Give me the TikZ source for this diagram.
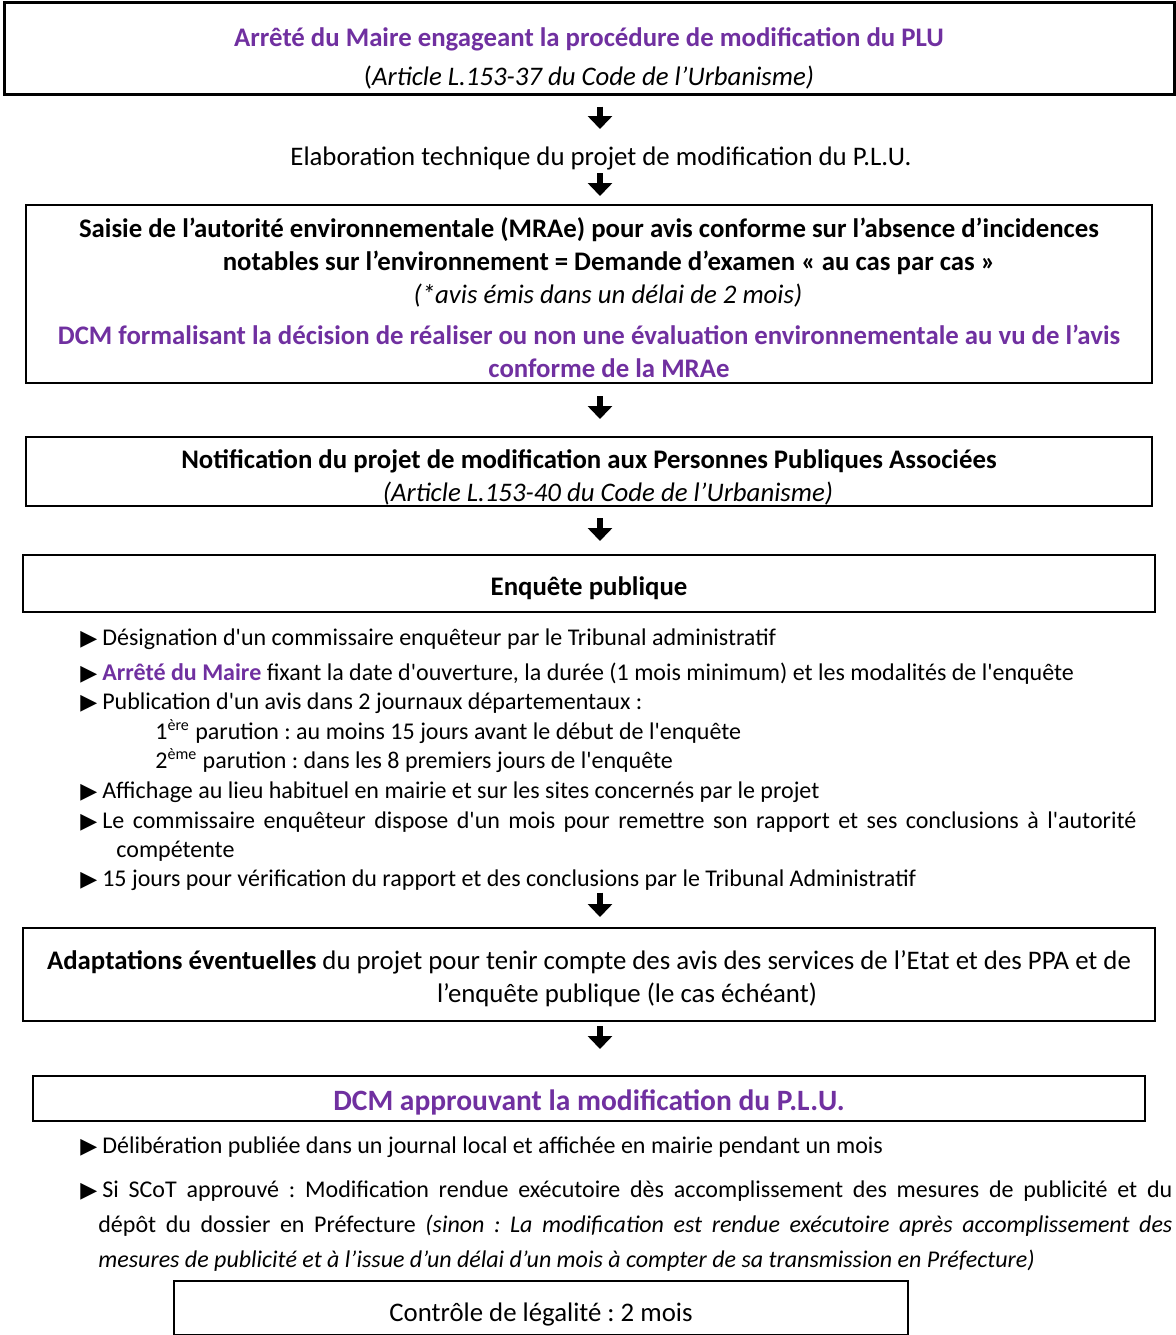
\documentclass[tikz,border=0pt]{standalone}
\usepackage{fontspec}
\setmainfont{Carlito}[Ligatures=TeXOff]
\newfontfamily\symfont{DejaVu Sans}
\usetikzlibrary{arrows.meta}
\frenchspacing
\newcommand{\tri}{{\symfont\fontsize{11}{11}\selectfont ▶}\hspace{2.5pt}}
\newcommand{\grand}{\fontsize{13.4}{16.5}\selectfont}
\begin{document}
\begin{tikzpicture}[x=0.5pt, y=-0.5pt, font=\fontsize{12}{14.75}\selectfont,
    boite/.style={draw, line width=1pt, align=center, inner sep=0pt, font=\grand},
    fleche/.style={line width=2.6pt, -{Triangle[width=12pt, length=6.5pt]}},
    puce/.style={anchor=base west, inner sep=0pt},
    para/.style={anchor=base west, inner sep=0pt, align=justify}]
  % Couleurs
  \definecolor{violetDCM}{RGB}{112, 48, 160}

  \useasboundingbox (0,0) rectangle (1176,1335);
  \coordinate (axe) at (600,0);

  % Etapes
  \node[boite, line width=1.5pt, minimum width=585pt, minimum height=46pt] (arrete) at (589,48)
    {\rule{0pt}{20pt}{\bfseries\color{violetDCM}Arrêté du Maire engageant la procédure de modification du PLU}\\[3pt]
     (\textit{Article L.153-37 du Code de l’Urbanisme)}};
  \node[inner sep=0pt, font=\grand] (elab) at (601,158) {Elaboration technique du projet de modification du P.L.U.};
  \node[boite, minimum width=563pt, minimum height=89pt] (saisie) at (589,294)
    {\rule{0pt}{14pt}\textbf{Saisie de l’autorité environnementale (MRAe) pour avis conforme sur l’absence d’incidences}\\
     \hspace*{20pt}\textbf{notables sur l’environnement = Demande d’examen « au cas par cas »}\\
     \hspace*{19pt}\textit{(*avis émis dans un délai de 2 mois)}\\[4pt]
     {\bfseries\color{violetDCM}DCM formalisant la décision de réaliser ou non une évaluation environnementale au vu de l’avis}\\
     \hspace*{20pt}{\bfseries\color{violetDCM}conforme de la MRAe}};
  \node[boite, minimum width=563pt, minimum height=34.5pt] (notif) at (589,471.5)
    {\rule{0pt}{15pt}\textbf{Notification du projet de modification aux Personnes Publiques Associées}\\
     \hspace*{19pt}\textit{(Article L.153-40 du Code de l’Urbanisme)}};
  \node[boite, minimum width=566pt, minimum height=28.5pt] (enquete) at (589,583.5)
    {\rule{0pt}{14pt}\textbf{Enquête publique}};

  % Enquete
  \node[puce] (design) at (80,645) {\tri Désignation d'un commissaire enquêteur par le Tribunal administratif};
  \node[puce] (arreteM) at (80,680) {\tri{\bfseries\color{violetDCM}Arrêté du Maire} fixant la date d'ouverture, la durée (1 mois minimum) et les modalités de l'enquête};
  \node[puce] (publi) at (80,709) {\tri Publication d'un avis dans 2 journaux départementaux :};
  \node[puce] (paru1) at (155,739) {1\textsuperscript{ère} parution : au moins 15 jours avant le début de l'enquête};
  \node[puce] (paru2) at (155,768) {2\textsuperscript{ème} parution : dans les 8 premiers jours de l'enquête};
  \node[puce] (affich) at (80,798) {\tri Affichage au lieu habituel en mairie et sur les sites concernés par le projet};
  \node[para, text width=528pt] (rapport) at (80,828)
    {\hangindent=18pt\hangafter=1 \tri Le commissaire enquêteur dispose d'un mois pour remettre son rapport et ses conclusions à l'autorité\linebreak compétente\par};
  \node[puce] (verif) at (80,886) {\tri 15 jours pour vérification du rapport et des conclusions par le Tribunal Administratif};

  \node[boite, minimum width=566pt, minimum height=46.5pt] (adapt) at (589,974.5)
    {\rule{0pt}{14pt}\textbf{Adaptations éventuelles} du projet pour tenir compte des avis des services de l’Etat et des PPA et de\\
     \hspace*{38pt}l’enquête publique (le cas échéant)};
  \node[boite, minimum width=556pt, minimum height=22.5pt, font=\fontsize{14.75}{17}\selectfont] (dcm) at (589,1098.5)
    {\rule{0pt}{14pt}{\bfseries\color{violetDCM}DCM approuvant la modification du P.L.U.}};

  % Publicite
  \node[puce] (delib) at (80,1153) {\tri Délibération publiée dans un journal local et affichée en mairie pendant un mois};
  \node[para, text width=546pt, font=\fontsize{12}{17.5}\selectfont] (scot) at (80,1197)
    {\hangindent=9pt\hangafter=1 \tri Si SCoT approuvé : Modification rendue exécutoire dès accomplissement des mesures de publicité et du\linebreak dépôt du dossier en Préfecture \textit{(sinon : La modification est rendue exécutoire après accomplissement des\linebreak mesures de publicité et à l’issue d’un délai d’un mois à compter de sa transmission en Préfecture)}\par};
  \node[boite, minimum width=367pt, minimum height=27pt] (controle) at (541,1307.5)
    {\rule{0pt}{16pt}Contrôle de légalité : 2 mois};

  % Fleches
  \draw[fleche, shorten <=5.5pt, shorten >=8.5pt] (axe |- arrete.south) -- (axe |- elab.north);
  \draw[fleche, shorten <=1.5pt, shorten >=4pt] (axe |- elab.south) -- (axe |- saisie.north);
  \draw[fleche, shorten <=6pt, shorten >=8.5pt] (axe |- saisie.south) -- (axe |- notif.north);
  \draw[fleche, shorten <=5.5pt, shorten >=6.5pt] (axe |- notif.south) -- (axe |- enquete.north);
  \draw[fleche, shorten <=1pt, shorten >=5pt] (axe |- verif.south) -- (axe |- adapt.north);
  \draw[fleche, shorten <=2pt, shorten >=13pt] (axe |- adapt.south) -- (axe |- dcm.north);
\end{tikzpicture}
\end{document}
